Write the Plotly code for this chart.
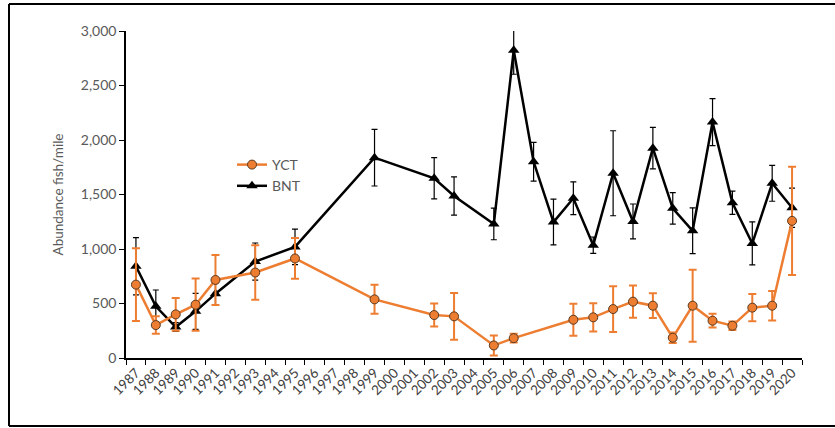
import plotly.graph_objects as go

all_years = [str(y) for y in range(1987, 2021)]

yct_years = ["1987", "1988", "1989", "1990", "1991", "1993", "1995", "1999", "2002", "2003",
             "2005", "2006", "2009", "2010", "2011", "2012", "2013", "2014", "2015", "2016",
             "2017", "2018", "2019", "2020"]
yct_vals = [673, 302, 400, 489, 716, 784, 913, 538, 394, 382,
            115, 182, 351, 373, 449, 517, 480, 186, 480, 342,
            296, 462, 480, 1258]
yct_err = [333, 80, 150, 240, 230, 250, 187, 133, 105, 215,
           92, 40, 147, 130, 210, 147, 114, 48, 330, 63,
           40, 125, 135, 496]

bnt_years = ["1987", "1988", "1989", "1990", "1991", "1993", "1995", "1999", "2002", "2003",
             "2005", "2006", "2007", "2008", "2009", "2010", "2011", "2012", "2013", "2014",
             "2015", "2016", "2017", "2018", "2019", "2020"]
bnt_vals = [842, 474, 284, 428, 590, 885, 1019, 1838, 1649, 1486,
            1230, 2823, 1801, 1247, 1465, 1035, 1695, 1253, 1925, 1373,
            1167, 2164, 1424, 1051, 1603, 1378]
bnt_err = [262, 150, 40, 165, 100, 170, 163, 260, 190, 175,
           145, 220, 178, 210, 150, 75, 390, 160, 190, 145,
           210, 215, 107, 197, 165, 180]

ORANGE = "#ED7D31"
GREY = "#595959"
FONT = "Lato, 'Open Sans', sans-serif"

fig = go.Figure()
fig.add_trace(go.Scatter(
    x=bnt_years, y=bnt_vals, name="BNT", mode="lines+markers",
    line=dict(color="black", width=2.5),
    marker=dict(symbol="triangle-up", size=10, color="black"),
    error_y=dict(type="data", array=bnt_err, visible=True, color="black", thickness=1.2, width=3),
))
fig.add_trace(go.Scatter(
    x=yct_years, y=yct_vals, name="YCT", mode="lines+markers",
    line=dict(color=ORANGE, width=2.5),
    marker=dict(symbol="circle", size=9, color=ORANGE, line=dict(color="#5a3a20", width=1)),
    error_y=dict(type="data", array=yct_err, visible=True, color=ORANGE, thickness=2, width=4),
))

W, H = 835, 428
L, R, T, B = 126, 33, 31, 70
pw, ph = W - L - R, H - T - B

def px_to_paper_x(px):
    return (px - L) / pw

def px_to_paper_y(py):
    return (H - B - py) / ph

border = dict(color="black", width=2)
shapes = [
    dict(type="line", xref="paper", yref="paper", x0=px_to_paper_x(9), x1=px_to_paper_x(835),
         y0=px_to_paper_y(4), y1=px_to_paper_y(4), line=border),
    dict(type="line", xref="paper", yref="paper", x0=px_to_paper_x(9), x1=px_to_paper_x(9),
         y0=px_to_paper_y(4), y1=px_to_paper_y(426), line=border),
    dict(type="line", xref="paper", yref="paper", x0=px_to_paper_x(9), x1=px_to_paper_x(835),
         y0=px_to_paper_y(426), y1=px_to_paper_y(426), line=border),
]

fig.update_layout(
    width=W, height=H,
    margin=dict(l=L, r=R, t=T, b=B, pad=0),
    paper_bgcolor="white", plot_bgcolor="white",
    font=dict(family=FONT, size=13, color=GREY),
    showlegend=True,
    legend=dict(x=px_to_paper_x(232), y=px_to_paper_y(149), xanchor="left", yanchor="top",
                traceorder="reversed", bgcolor="rgba(0,0,0,0)",
                font=dict(family=FONT, size=14, color=GREY), itemwidth=30,
                tracegroupgap=0),
    xaxis=dict(type="category", categoryorder="array", categoryarray=all_years,
               range=[-0.5, len(all_years) - 0.5], tickson="boundaries",
               tickangle=-45, ticks="outside", ticklen=5, tickcolor="black",
               showline=True, linecolor="black", linewidth=1.5, showgrid=False,
               tickfont=dict(family=FONT, size=13.5, color="#404040")),
    yaxis=dict(range=[0, 3000], dtick=500, tickformat=",", ticks="outside", ticklen=5,
               tickcolor="black", showline=True, linecolor="black", linewidth=1.5,
               showgrid=False, zeroline=False,
               title=dict(text="Abundance fish/mile", font=dict(family=FONT, size=13.5, color=GREY),
                          standoff=14),
               tickfont=dict(family=FONT, size=14, color=GREY)),
    shapes=shapes,
)

fig.write_html("out.html", config={"displayModeBar": False},
               post_script="document.body.style.margin='0';document.body.style.overflow='hidden';")
